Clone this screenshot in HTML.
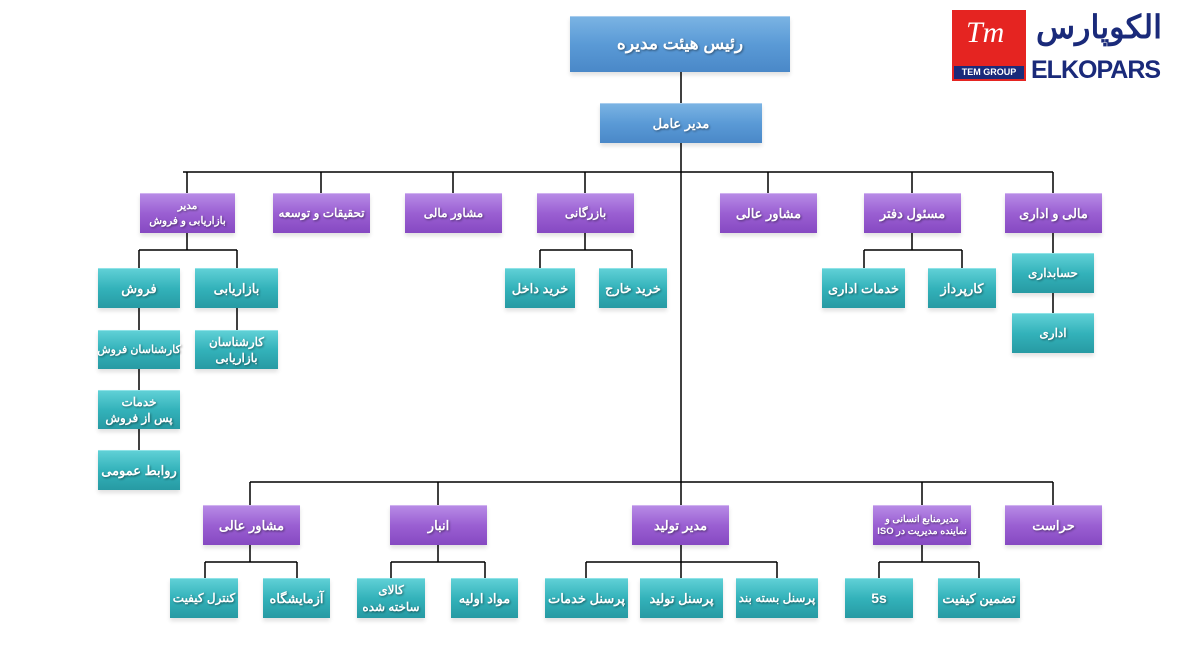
<!DOCTYPE html>
<html><head><meta charset="utf-8"><style>
body{margin:0;width:1200px;height:649px;background:#fff;position:relative;overflow:hidden;font-family:"Liberation Sans","Noto Sans CJK SC",sans-serif;}
.b{position:absolute;display:flex;align-items:center;justify-content:center;text-align:center;color:#fff;font-weight:bold;font-size:12px;line-height:1.35;text-shadow:1px 1px 2px rgba(0,0,0,.45);box-sizing:border-box;direction:rtl;box-shadow:0 3px 4px rgba(0,0,0,.12);}
.t{background:linear-gradient(#5fd0d6,#33b2ba 50%,#279aa3);border-top:1px solid #8ee3e7}
.p{background:linear-gradient(#b78ae6,#9a5fd2 50%,#8649c2);border-top:1px solid #d0b2f0}
.u{background:linear-gradient(#7ab3e3,#5a9ad6 50%,#4a88c8);border-top:1px solid #a8cdee}
svg{position:absolute;left:0;top:0}
</style></head><body>
<svg width="1200" height="649" stroke="#000" stroke-width="1.5" fill="none">
<path d="M681 72V103M681 143V482M183 172H1053M187 172V193M321 172V193M453 172V193M585 172V193M768 172V193M912 172V193M1053 172V193"/>
<path d="M187 233V250M139 250H237M139 250V268M237 250V268M139 308V450M237 308V330"/>
<path d="M585 233V250M540 250H632M540 250V268M632 250V268"/>
<path d="M912 233V250M864 250H962M864 250V268M962 250V268"/>
<path d="M1053 233V313"/>
<path d="M250 482H1053M250 482V505M438 482V505M681 482V505M922 482V505M1053 482V505"/>
<path d="M250 545V562M205 562H297M205 562V578M297 562V578"/>
<path d="M438 545V562M391 562H485M391 562V578M485 562V578"/>
<path d="M681 545V562M586 562H777M586 562V578M681 562V578M777 562V578"/>
<path d="M922 545V562M879 562H979M879 562V578M979 562V578"/>
</svg>
<div class="b u" style="left:570px;top:16px;width:220px;height:56px;font-size:17px">رئیس هیئت مدیره</div>
<div class="b u" style="left:600px;top:103px;width:162px;height:40px;font-size:13px">مدیر عامل</div>

<div class="b p" style="left:140px;top:193px;width:95px;height:40px;font-size:10.5px">مدیر<br>بازاریابی و فروش</div>
<div class="b p" style="left:273px;top:193px;width:97px;height:40px">تحقیقات و توسعه</div>
<div class="b p" style="left:405px;top:193px;width:97px;height:40px">مشاور مالی</div>
<div class="b p" style="left:537px;top:193px;width:97px;height:40px">بازرگانی</div>
<div class="b p" style="left:720px;top:193px;width:97px;height:40px;font-size:13px">مشاور عالی</div>
<div class="b p" style="left:864px;top:193px;width:97px;height:40px;font-size:13px">مسئول دفتر</div>
<div class="b p" style="left:1005px;top:193px;width:97px;height:40px;font-size:13px">مالی و اداری</div>

<div class="b t" style="left:98px;top:268px;width:82px;height:40px;font-size:13px">فروش</div>
<div class="b t" style="left:195px;top:268px;width:83px;height:40px;font-size:13px">بازاریابی</div>
<div class="b t" style="left:98px;top:330px;width:82px;height:39px;font-size:11px;white-space:nowrap">کارشناسان فروش</div>
<div class="b t" style="left:195px;top:330px;width:83px;height:39px">کارشناسان<br>بازاریابی</div>
<div class="b t" style="left:98px;top:390px;width:82px;height:39px">خدمات<br>پس از فروش</div>
<div class="b t" style="left:98px;top:450px;width:82px;height:40px;font-size:13px;white-space:nowrap">روابط عمومی</div>

<div class="b t" style="left:505px;top:268px;width:70px;height:40px;font-size:13px">خرید داخل</div>
<div class="b t" style="left:599px;top:268px;width:68px;height:40px;font-size:13px">خرید خارج</div>
<div class="b t" style="left:822px;top:268px;width:83px;height:40px;font-size:13px">خدمات اداری</div>
<div class="b t" style="left:928px;top:268px;width:68px;height:40px;font-size:13px">کارپرداز</div>
<div class="b t" style="left:1012px;top:253px;width:82px;height:40px">حسابداری</div>
<div class="b t" style="left:1012px;top:313px;width:82px;height:40px">اداری</div>

<div class="b p" style="left:203px;top:505px;width:97px;height:40px;font-size:13px">مشاور عالی</div>
<div class="b p" style="left:390px;top:505px;width:97px;height:40px;font-size:13px">انبار</div>
<div class="b p" style="left:632px;top:505px;width:97px;height:40px;font-size:13px">مدیر تولید</div>
<div class="b p" style="left:873px;top:505px;width:98px;height:40px;font-size:9.5px;line-height:1.2">مدیرمنابع انسانی و<br>نماینده مدیریت در ISO</div>
<div class="b p" style="left:1005px;top:505px;width:97px;height:40px;font-size:13px">حراست</div>

<div class="b t" style="left:170px;top:578px;width:68px;height:40px">کنترل کیفیت</div>
<div class="b t" style="left:263px;top:578px;width:67px;height:40px;font-size:13px">آزمایشگاه</div>
<div class="b t" style="left:357px;top:578px;width:68px;height:40px">کالای<br>ساخته شده</div>
<div class="b t" style="left:451px;top:578px;width:67px;height:40px;font-size:13px">مواد اولیه</div>
<div class="b t" style="left:545px;top:578px;width:83px;height:40px;font-size:13px">پرسنل خدمات</div>
<div class="b t" style="left:640px;top:578px;width:83px;height:40px;font-size:13px">پرسنل تولید</div>
<div class="b t" style="left:736px;top:578px;width:82px;height:40px">پرسنل بسته بند</div>
<div class="b t" style="left:845px;top:578px;width:68px;height:40px;font-size:14px">5s</div>
<div class="b t" style="left:938px;top:578px;width:82px;height:40px;font-size:13px">تضمین کیفیت</div>

<div style="position:absolute;left:952px;top:10px;width:74px;height:71px;background:#e52421">
<div style="position:absolute;left:14px;top:6px;color:#fff;font:italic 30px 'Liberation Serif',serif">Tm</div>
<div style="position:absolute;left:2px;bottom:2px;width:70px;height:13px;background:#1a2a7a;color:#fff;font:bold 9px 'Liberation Sans',sans-serif;text-align:center;line-height:13px">TEM GROUP</div>
</div>
<div style="position:absolute;left:1030px;top:8px;width:138px;text-align:center;color:#1a2a7a;font:bold 32px 'Liberation Sans','Noto Sans CJK SC',sans-serif;direction:rtl">الکوپارس</div>
<div style="position:absolute;left:1031px;top:56px;color:#1a2a7a;font:bold 25px 'Liberation Sans',sans-serif;letter-spacing:-1px">ELKOPARS</div>
</body></html>
